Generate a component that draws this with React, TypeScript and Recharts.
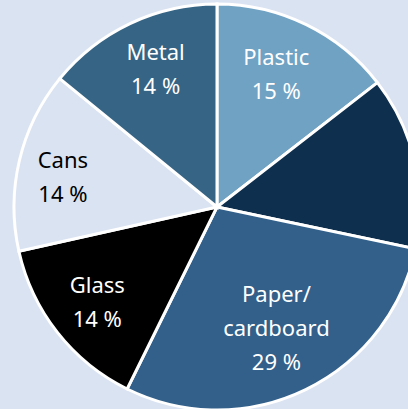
import React from "react";
import { PieChart, Pie, Cell } from "recharts";

const categories = ["Plastic", "Other", "Paper/cardboard", "Glass", "Cans", "Metal"];
const shares = [14.5, 13.8, 29.0, 14.2, 14.4, 14.1];
const labelLines = [["Plastic"], [], ["Paper/", "cardboard"], ["Glass"], ["Cans"], ["Metal"]];
const colors = ["#6fa2c3", "#0e2f4d", "#32608a", "#000000", "#dae3f2", "#366484"];
const textColors = ["#ffffff", "#ffffff", "#ffffff", "#ffffff", "#000000", "#ffffff"];
const labelRadius = [0.72, 0.7, 0.67, 0.75, 0.78, 0.74];
const labelNudge = [[-5, -3], [0, 0], [0, -2], [0, 0], [0, 5], [3, -3]];

const data = categories.map((name, i) => ({ name, value: shares[i], idx: i }));
const RAD = Math.PI / 180;

const renderLabel = (props: any) => {
  const { cx, cy, midAngle, outerRadius, index } = props;
  const lines = labelLines[index];
  if (!lines.length) return null;
  const r = outerRadius * labelRadius[index];
  const x = cx + r * Math.cos(-midAngle * RAD) + labelNudge[index][0];
  const y = cy + r * Math.sin(-midAngle * RAD) + labelNudge[index][1];
  const all = [...lines, `${Math.round(shares[index])} %`];
  const lh = 34;
  const y0 = y - ((all.length - 1) * lh) / 2;
  return (
    <text
      x={x}
      y={y0}
      fill={textColors[index]}
      textAnchor="middle"
      dominantBaseline="central"
      fontFamily="'Noto Sans', sans-serif"
      fontSize={22}
    >
      {all.map((t, k) => (
        <tspan key={k} x={x} y={y0 + k * lh}>
          {t}
        </tspan>
      ))}
    </text>
  );
};

export default function App() {
  return (
    <div style={{ position: "absolute", left: 0, top: 0, width: 408, height: 409, background: "#dae3f2", overflow: "hidden" }}>
      <PieChart width={408} height={409} margin={{ top: 0, right: 0, bottom: 0, left: 0 }}>
        <Pie
          data={data}
          dataKey="value"
          nameKey="name"
          cx={217}
          cy={207}
          outerRadius={203}
          startAngle={90}
          endAngle={-270}
          stroke="#ffffff"
          strokeWidth={3}
          label={renderLabel}
          labelLine={false}
          isAnimationActive={false}
        >
          {data.map((d, i) => (
            <Cell key={d.name} fill={colors[i]} />
          ))}
        </Pie>
      </PieChart>
    </div>
  );
}
